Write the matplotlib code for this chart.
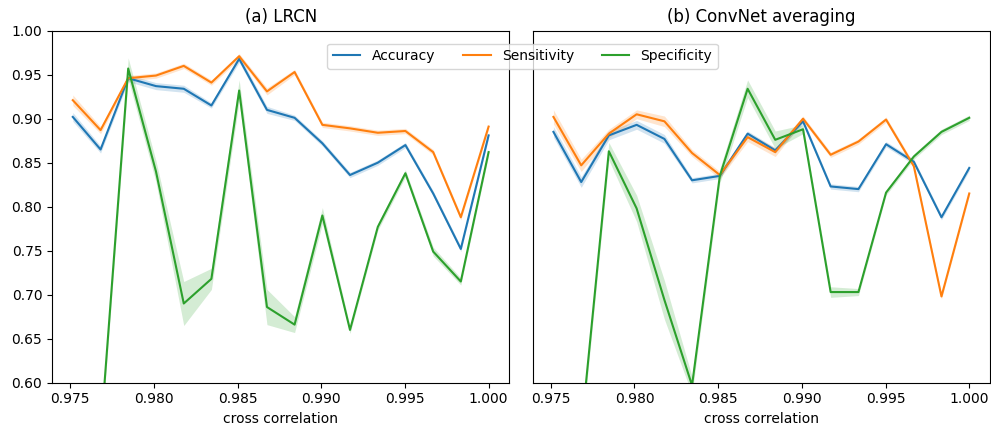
import numpy as np
import matplotlib
matplotlib.use("Agg")
import matplotlib.pyplot as plt

x = [0.97516, 0.97682, 0.97847, 0.98013, 0.98179, 0.98344, 0.98510, 0.98676,
     0.98841, 0.99007, 0.99172, 0.99338, 0.99503, 0.99669, 0.99834, 1.00000]

# (a) LRCN
lrcn_acc = [0.902, 0.865, 0.946, 0.937, 0.934, 0.915, 0.968, 0.910,
            0.901, 0.872, 0.836, 0.850, 0.870, 0.815, 0.752, 0.881]
lrcn_sens = [0.921, 0.887, 0.946, 0.949, 0.960, 0.941, 0.971, 0.931,
             0.953, 0.893, 0.889, 0.884, 0.886, 0.862, 0.788, 0.891]
lrcn_spec = [0.550, 0.540, 0.957, 0.840, 0.690, 0.718, 0.932, 0.686,
             0.666, 0.790, 0.660, 0.777, 0.838, 0.749, 0.715, 0.862]
lrcn_acc_ci = [0.005, 0.004, 0.004, 0.004, 0.004, 0.003, 0.004, 0.004,
               0.003, 0.003, 0.003, 0.003, 0.003, 0.003, 0.003, 0.003]
lrcn_sens_ci = [0.006, 0.004, 0.003, 0.003, 0.003, 0.003, 0.003, 0.004,
                0.003, 0.003, 0.003, 0.003, 0.003, 0.003, 0.003, 0.003]
lrcn_spec_ci = [0.010, 0.010, 0.012, 0.012, 0.025, 0.012, 0.012, 0.020,
                0.009, 0.009, 0.004, 0.004, 0.004, 0.005, 0.004, 0.004]

# (b) ConvNet averaging
conv_acc = [0.885, 0.828, 0.881, 0.893, 0.877, 0.830, 0.835, 0.883,
            0.864, 0.897, 0.823, 0.820, 0.871, 0.851, 0.788, 0.844]
conv_sens = [0.902, 0.847, 0.883, 0.905, 0.897, 0.861, 0.836, 0.879,
             0.862, 0.900, 0.859, 0.874, 0.899, 0.846, 0.698, 0.815]
conv_spec = [0.560, 0.545, 0.863, 0.798, 0.694, 0.597, 0.835, 0.934,
             0.876, 0.888, 0.703, 0.703, 0.816, 0.857, 0.885, 0.901]
conv_acc_ci = [0.006, 0.006, 0.005, 0.005, 0.005, 0.003, 0.003, 0.003,
               0.003, 0.003, 0.003, 0.003, 0.003, 0.003, 0.003, 0.003]
conv_sens_ci = [0.008, 0.007, 0.005, 0.005, 0.006, 0.004, 0.004, 0.005,
                0.005, 0.003, 0.003, 0.003, 0.003, 0.003, 0.003, 0.003]
conv_spec_ci = [0.010, 0.010, 0.010, 0.015, 0.022, 0.010, 0.008, 0.010,
                0.010, 0.005, 0.006, 0.004, 0.003, 0.003, 0.003, 0.003]

labels = ["Accuracy", "Sensitivity", "Specificity"]
colors = ["#1f77b4", "#ff7f0e", "#2ca02c"]
titles = ["(a) LRCN", "(b) ConvNet averaging"]
yticks = [0.60, 0.65, 0.70, 0.75, 0.80, 0.85, 0.90, 0.95, 1.00]
xticks = [0.975, 0.980, 0.985, 0.990, 0.995, 1.000]

panels = [
    [(lrcn_acc, lrcn_acc_ci), (lrcn_sens, lrcn_sens_ci), (lrcn_spec, lrcn_spec_ci)],
    [(conv_acc, conv_acc_ci), (conv_sens, conv_sens_ci), (conv_spec, conv_spec_ci)],
]

fig, axes = plt.subplots(1, 2, figsize=(9.91, 4.26), dpi=100, sharey=True)
fig.subplots_adjust(left=0.0525, right=0.999, top=0.928, bottom=0.1016, wspace=0.051)

xa = np.array(x)
handles = []
for ax, title, series in zip(axes, titles, panels):
    for (vals, ci), lab, c in zip(series, labels, colors):
        v = np.array(vals)
        e = np.array(ci)
        ax.fill_between(xa, v - e, v + e, color=c, alpha=0.2, linewidth=0)
        h, = ax.plot(xa, v, color=c, lw=1.5, label=lab)
        if ax is axes[0]:
            handles.append(h)
    ax.set_title(title, fontsize=12)
    ax.set_xlabel("cross correlation", fontsize=10)
    ax.set_xticks(xticks)
    ax.set_xticklabels([f"{t:.3f}" for t in xticks])
    ax.set_xlim(0.97392, 1.00124)

axes[0].set_ylim(0.6, 1.0)
axes[0].set_yticks(yticks)
axes[0].set_yticklabels([f"{t:.2f}" for t in yticks])
axes[1].tick_params(axis="y", left=False, labelleft=False)

fig.legend(handles=handles, labels=labels, ncol=3, loc="upper left",
           bbox_to_anchor=(0.323, 0.914), bbox_transform=fig.transFigure,
           fontsize=10)

fig.savefig("out.png", dpi=100)
